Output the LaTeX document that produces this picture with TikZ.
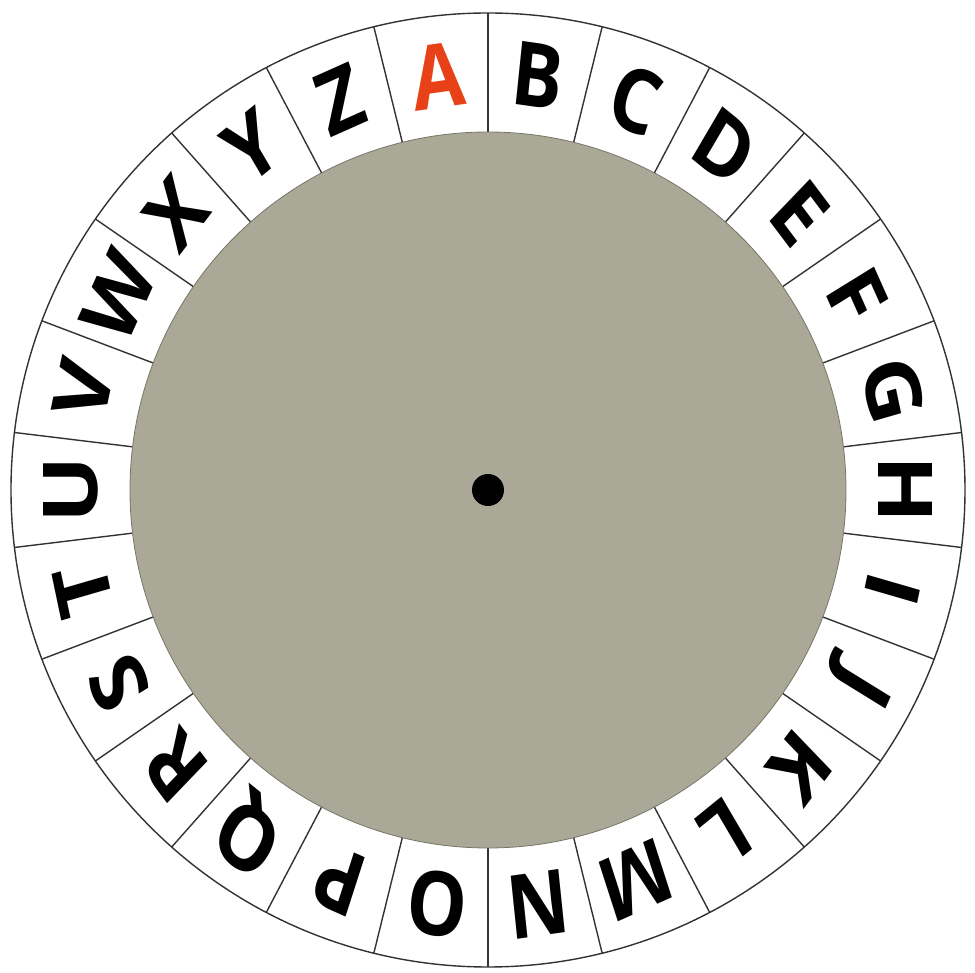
\documentclass[tikz,border=0pt]{standalone}
\usepackage{fontspec}
\setsansfont{Open Sans}
\definecolor{disk}{RGB}{170,168,150}
\definecolor{redA}{RGB}{232,65,24}
\begin{document}
\begin{tikzpicture}[x=1pt,y=1pt,
  seg/.style={draw=black!80, line width=1.4pt},
  letter/.style={font=\sffamily\bfseries\fontsize{89}{89}\selectfont, inner sep=0pt, anchor=center, xscale=0.85}]
\useasboundingbox (-488,-483) rectangle (487,490);
\fill[white] (-488,-483) rectangle (487,490);
\node[circle, draw=black!80, line width=1.4pt, minimum size=954pt, inner sep=0pt] (outer) at (0,0) {};
\foreach \i in {0,...,25} { \draw[seg] (90-\i*360/26:358) -- (90-\i*360/26:477); }
\node[circle, fill=disk, draw=disk!70!black, line width=0.8pt, minimum size=716pt, inner sep=0pt] (disk) at (0,0) {};
\node[circle, fill=black, minimum size=32pt, inner sep=0pt] (hub) at (0,0) {};
\foreach \L [count=\i from 0] in {A,B,C,D,E,F,G,H,I,J,K,L,M,N,O,P,Q,R,S,T,U,V,W,X,Y,Z} {
  \pgfmathsetmacro{\a}{90+180/26-\i*360/26}
  \ifnum\i=0
    \node[letter, text=redA, rotate=\a-90] (L\i) at (\a:417) {\L};
  \else
    \node[letter, rotate=\a-90] (L\i) at (\a:417) {\L};
  \fi
}
\end{tikzpicture}
\end{document}
